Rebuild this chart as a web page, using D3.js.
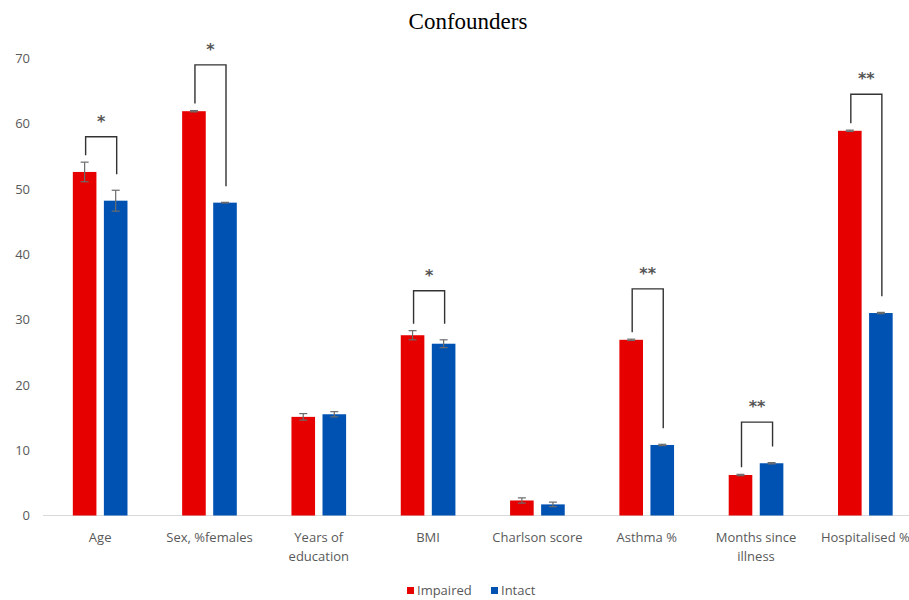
<!DOCTYPE html>
<html>
<head>
<meta charset="utf-8">
<script src="https://cdn.jsdelivr.net/npm/d3@7/dist/d3.min.js"></script>
<style>
  html, body { margin: 0; padding: 0; background: #fff; }
  svg { display: block; }
</style>
</head>
<body>
<svg id="chart" width="909" height="600"></svg>
<script>
// Confounders: group means for impaired vs intact participants
const categories = ["Age", "Sex, %females", "Years of\neducation", "BMI", "Charlson score", "Asthma %", "Months since\nillness", "Hospitalised %"];
const series = ["Impaired", "Intact"];
const impaired = [52.6, 61.9, 15.1, 27.6, 2.3, 26.9, 6.2, 58.9];
const intact = [48.2, 47.9, 15.5, 26.3, 1.7, 10.8, 8.0, 31.0];
const impairedErr = [1.5, 0.1, 0.5, 0.7, 0.4, 0.1, 0.1, 0.1];
const intactErr = [1.6, 0.05, 0.4, 0.6, 0.35, 0.1, 0.1, 0.1];
const yTicks = [0, 10, 20, 30, 40, 50, 60, 70];
// significance brackets: category, bracket level, marker
const sigCategories = ["Age", "Sex, %females", "BMI", "Asthma %", "Months since\nillness", "Hospitalised %"];
const sigLevels = [58.0, 69.0, 34.4, 34.7, 14.3, 64.5];
const sigMarks = ["*", "*", "*", "**", "**", "**"];

const colors = { Impaired: "#E60000", Intact: "#0052B2" };
const textColor = "#595959";
const sansFont = "'Open Sans', 'DejaVu Sans', sans-serif";

const svg = d3.select("#chart");

const x = d3.scaleBand().domain(categories).range([45.5, 920]).padding(0);
const xSub = d3.scaleBand().domain(series).range([0, x.bandwidth()])
  .paddingInner(0.24).paddingOuter(0.88);
const y = d3.scaleLinear().domain([0, 70]).range([515.5, 58.3]);

const rows = categories.map((c, i) => ({
  cat: c,
  vals: [
    { s: "Impaired", v: impaired[i], e: impairedErr[i] },
    { s: "Intact", v: intact[i], e: intactErr[i] }
  ]
}));

// title
svg.append("text")
  .attr("x", 468).attr("y", 29)
  .attr("text-anchor", "middle")
  .style("font-family", "'Liberation Serif', 'Times New Roman', serif")
  .style("font-size", "23px")
  .style("fill", "#000")
  .text("Confounders");

// y axis labels (no axis line, no gridlines)
const yAxis = d3.axisLeft(y).tickValues(yTicks).tickSize(0).tickPadding(0);
const yg = svg.append("g").attr("transform", "translate(30,0)").call(yAxis);
yg.select(".domain").remove();
yg.selectAll("text")
  .style("font-family", sansFont)
  .style("font-size", "13px")
  .style("fill", textColor);

// baseline
svg.append("line")
  .attr("x1", 43).attr("x2", 909)
  .attr("y1", y(0)).attr("y2", y(0))
  .attr("stroke", "#d9d9d9").attr("stroke-width", 1.2);

// bars
const groups = svg.append("g").selectAll("g.cat")
  .data(rows).join("g")
  .attr("class", "cat")
  .attr("transform", d => `translate(${x(d.cat)},0)`);

groups.selectAll("rect")
  .data(d => d.vals).join("rect")
  .attr("x", d => xSub(d.s))
  .attr("y", d => y(d.v))
  .attr("width", xSub.bandwidth())
  .attr("height", d => y(0) - y(d.v))
  .attr("fill", d => colors[d.s]);

// error bars
const eb = groups.selectAll("g.err")
  .data(d => d.vals).join("g").attr("class", "err")
  .attr("transform", d => `translate(${xSub(d.s) + xSub.bandwidth() / 2},0)`);
eb.append("line")
  .attr("x1", 0).attr("x2", 0)
  .attr("y1", d => y(d.v - d.e)).attr("y2", d => y(d.v + d.e))
  .attr("stroke", "#6b6b6b").attr("stroke-width", 1.2);
eb.selectAll("line.cap")
  .data(d => [d.v - d.e, d.v + d.e]).join("line").attr("class", "cap")
  .attr("x1", -4).attr("x2", 4)
  .attr("y1", d => y(d)).attr("y2", d => y(d))
  .attr("stroke", "#6b6b6b").attr("stroke-width", 1.2);

// significance brackets
const sig = svg.append("g");
sigCategories.forEach((c, k) => {
  const i = categories.indexOf(c);
  const r = rows[i];
  const xl = x(c) + xSub("Impaired") + xSub.bandwidth() / 2 + 1;
  const xr = x(c) + xSub("Intact") + xSub.bandwidth() / 2 + 1;
  const yTop = y(sigLevels[k]);
  const yl = y(r.vals[0].v + r.vals[0].e) - 7;
  const yr = y(r.vals[1].v + r.vals[1].e) - 16;
  sig.append("path")
    .attr("d", `M${xl},${yl}V${yTop}H${xr}V${yr}`)
    .attr("fill", "none")
    .attr("stroke", "#333")
    .attr("stroke-width", 1.4);
  sig.append("text")
    .attr("x", (xl + xr) / 2).attr("y", yTop - 10)
    .attr("text-anchor", "middle")
    .style("font-family", "'DejaVu Sans', sans-serif")
    .style("font-size", "16px")
    .style("font-weight", "bold")
    .style("fill", "#555")
    .text(sigMarks[k]);
});

// category labels
const xl = svg.append("g");
categories.forEach(c => {
  const t = xl.append("text")
    .attr("x", x(c) + x.bandwidth() / 2)
    .attr("y", 542)
    .attr("text-anchor", "middle")
    .style("font-family", sansFont)
    .style("font-size", "13px")
    .style("fill", textColor);
  c.split("\n").forEach((line, j) => {
    t.append("tspan").attr("x", x(c) + x.bandwidth() / 2).attr("dy", j === 0 ? 0 : 19).text(line);
  });
});

// legend
const legend = svg.append("g").attr("transform", "translate(407,595)");
const legX = [0, 84];
series.forEach((s, i) => {
  const g = legend.append("g").attr("transform", `translate(${legX[i]},0)`);
  g.append("rect").attr("x", 0).attr("y", -8).attr("width", 7).attr("height", 7).attr("fill", colors[s]);
  g.append("text").attr("x", 10).attr("y", 0)
    .style("font-family", sansFont)
    .style("font-size", "13px")
    .style("fill", textColor)
    .text(s);
});
</script>
</body>
</html>
